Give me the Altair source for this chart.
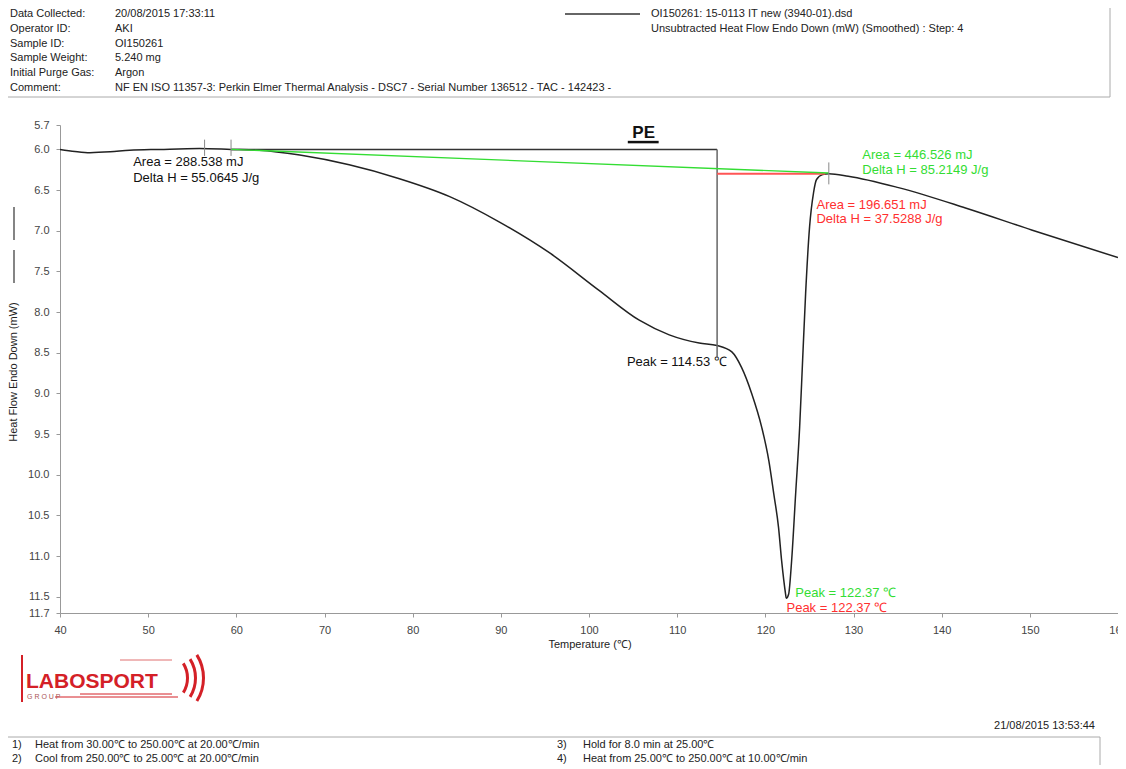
import altair as alt
import pandas as pd

FONT = "Liberation Sans"

# ---------------- data ----------------
temp = [40, 41.7, 43.4, 45.7, 47.9, 51.3, 55.8, 59.4, 62.6, 67.2, 72.8, 78.5,
        84.2, 89.8, 95.5, 101.1, 105.7, 109.1, 112.5, 114.53, 116.2, 117.3,
        118.45, 119.6, 120.4, 120.95, 121.5, 121.85, 122.3, 122.37, 122.64,
        122.98, 123.44, 123.89, 124.23, 124.57, 125.02, 125.47, 125.81, 126.5,
        127.2, 129.4, 135.1, 142.7, 150.2, 160]
heat = [6.0, 6.025, 6.04, 6.03, 6.01, 6.0, 5.99, 6.0, 6.01, 6.07, 6.19, 6.36,
        6.58, 6.89, 7.27, 7.73, 8.10, 8.28, 8.38, 8.41, 8.49, 8.68,
        9.00, 9.42, 9.83, 10.23, 10.65, 11.06, 11.47, 11.52, 11.47,
        11.06, 10.23, 9.42, 8.59, 7.77, 6.95, 6.53, 6.37, 6.31,
        6.30, 6.33, 6.47, 6.72, 6.99, 7.33]

x_ticks = [40, 50, 60, 70, 80, 90, 100, 110, 120, 130, 140, 150, 160]
y_ticks = [5.7, 6.0, 6.5, 7.0, 7.5, 8.0, 8.5, 9.0, 9.5, 10.0, 10.5, 11.0, 11.5, 11.7]

# integration limits / baselines
seg_T = [59.4, 114.53, 114.53, 59.4]
seg_T2 = [114.53, 114.53, 126.8, 127.2]
seg_H = [6.0, 6.0, 6.30, 6.0]
seg_H2 = [6.0, 8.55, 6.30, 6.29]
seg_col = ["#333333", "#666666", "#ff5555", "#33dd33"]
seg_w = [1.5, 1.5, 2.0, 1.4]

mark_T = [56.4, 59.4, 127.2]
mark_H = [5.88, 5.88, 6.16]
mark_H2 = [6.08, 6.08, 6.43]

ann_T = [48.3, 48.3, 131.0, 131.0, 125.8, 125.8, 104.3, 123.4, 122.4]
ann_H = [6.16, 6.35, 6.07, 6.25, 6.68, 6.86, 8.62, 11.46, 11.635]
ann_text = ["Area = 288.538 mJ", "Delta H = 55.0645 J/g",
            "Area = 446.526 mJ", "Delta H = 85.2149 J/g",
            "Area = 196.651 mJ", "Delta H = 37.5288 J/g",
            "Peak = 114.53 ℃", "Peak = 122.37 ℃", "Peak = 122.37 ℃"]
ann_col = ["#111111", "#111111", "#33dd33", "#33dd33", "#ff3030", "#ff3030",
           "#111111", "#33dd33", "#ff3030"]

header_labels = ["Data Collected:", "Operator ID:", "Sample ID:", "Sample Weight:",
                 "Initial Purge Gas:", "Comment:"]
header_values = ["20/08/2015 17:33:11", "AKI", "OI150261", "5.240 mg", "Argon",
                 "NF EN ISO 11357-3: Perkin Elmer Thermal Analysis - DSC7 - Serial Number 136512 - TAC - 142423 -"]
legend_lines = ["OI150261: 15-0113 IT new (3940-01).dsd",
                "Unsubtracted Heat Flow Endo Down (mW) (Smoothed) : Step: 4"]
steps_left = [("1)", "Heat from 30.00℃ to 250.00℃ at 20.00℃/min"),
              ("2)", "Cool from 250.00℃ to 25.00℃ at 20.00℃/min")]
steps_right = [("3)", "Hold for 8.0 min at 25.00℃"),
               ("4)", "Heat from 25.00℃ to 250.00℃ at 10.00℃/min")]
timestamp = "21/08/2015 13:53:44"

# ---------------- scales / axes ----------------
xs = alt.Scale(domain=[40, 160], nice=False, zero=False)
ys = alt.Scale(domain=[5.7, 11.7], reverse=True, nice=False, zero=False)
xaxis = alt.Axis(values=x_ticks, title=None, grid=False, labelFlush=False,
                 labelOverlap=False, tickSize=4, labelPadding=7)
yaxis = alt.Axis(values=y_ticks, format=".1f", title=None, grid=False,
                 labelOverlap=False, tickSize=4, labelPadding=7)


def X(f):
    return alt.X(f, type="quantitative", scale=xs, axis=xaxis)


def Y(f):
    return alt.Y(f, type="quantitative", scale=ys, axis=yaxis)


one = pd.DataFrame({"d": [0]})


def ptext(s, x, y, size=11, color="#222222", align="left", weight="normal",
          font=FONT, angle=None, baseline="middle"):
    kw = dict(text=s, align=align, baseline=baseline, fontSize=size,
              color=color, font=font, fontWeight=weight)
    if angle is not None:
        kw["angle"] = angle
    return alt.Chart(one).mark_text(**kw).encode(x=alt.value(x), y=alt.value(y))


def prule(x1, x2, y1, y2, color="#888888", w=1.0):
    return alt.Chart(one).mark_rule(color=color, strokeWidth=w).encode(
        x=alt.value(x1), x2=alt.value(x2), y=alt.value(y1), y2=alt.value(y2))


def pbox(x1, x2, y1, y2):
    return alt.Chart(one).mark_rect(fillOpacity=0, stroke="#aaaaaa", strokeWidth=1).encode(
        x=alt.value(x1), x2=alt.value(x2), y=alt.value(y1), y2=alt.value(y2))


curve_df = pd.DataFrame({"T": temp, "H": heat})
seg_df = pd.DataFrame({"T": seg_T, "T2": seg_T2, "H": seg_H, "H2": seg_H2})
mark_df = pd.DataFrame({"T": mark_T, "H": mark_H, "H2": mark_H2})
ann_df = pd.DataFrame({"T": ann_T, "H": ann_H, "t": ann_text, "c": ann_col})

layers = []

# the DSC curve
layers.append(
    alt.Chart(curve_df).mark_line(color="#222222", strokeWidth=1.5,
                                  interpolate="monotone").encode(x=X("T"), y=Y("H")))

# baselines and limits
for i in range(len(seg_T)):
    layers.append(
        alt.Chart(seg_df.iloc[[i]]).mark_rule(color=seg_col[i], strokeWidth=seg_w[i]).encode(
            x=X("T"), x2="T2", y=Y("H"), y2="H2"))

layers.append(
    alt.Chart(mark_df).mark_rule(color="#888888", strokeWidth=1).encode(
        x=X("T"), y=Y("H"), y2="H2"))

# annotations in data space
layers.append(
    alt.Chart(ann_df).mark_text(align="left", baseline="middle", fontSize=13, font=FONT).encode(
        x=X("T"), y=Y("H"), text="t:N", color=alt.Color("c:N", scale=None)))

pe_df = pd.DataFrame({"T": [106.2], "H": [5.80], "t": ["PE"]})
layers.append(
    alt.Chart(pe_df).mark_text(align="center", baseline="middle", fontSize=17,
                               fontWeight="bold", font=FONT, color="#111111").encode(
        x=X("T"), y=Y("H"), text="t:N"))
pe_ul = pd.DataFrame({"T": [104.4], "T2": [107.9], "H": [5.91]})
layers.append(
    alt.Chart(pe_ul).mark_rule(color="#111111", strokeWidth=2.5).encode(
        x=X("T"), x2="T2", y=Y("H")))

# ---------------- page furniture (pixel positions relative to plot origin) ----------------
# header box
layers.append(pbox(-55, 1050, -120, -28))
hy = [-111, -96, -81, -67, -52, -37]
for lab, val, yy in zip(header_labels, header_values, hy):
    layers.append(ptext(lab, -50, yy))
    layers.append(ptext(val, 55, yy))
layers.append(prule(505, 580, -111, -111, color="#333333", w=1.5))
layers.append(ptext(legend_lines[0], 591, -111))
layers.append(ptext(legend_lines[1], 591, -96))

# axis titles
layers.append(ptext("Heat Flow Endo Down (mW)", -46, 247, align="center", angle=270))
layers.append(prule(-46, -46, 82, 115, color="#333333", w=1.2))
layers.append(prule(-46, -46, 125, 158, color="#333333", w=1.2))
layers.append(ptext("Temperature (℃)", 530, 520, align="center"))

# logo
LOGO = "#d42027"
layers.append(prule(-38, -38, 530, 577, color=LOGO, w=2))
for r in [45, 37, 29]:
    layers.append(
        alt.Chart(one).mark_arc(radius=r, radius2=r - 3, theta=1.01, theta2=2.13, color=LOGO).encode(
            x=alt.value(100), y=alt.value(553)))
layers.append(prule(-5, 118, 572, 572, color=LOGO, w=1))
layers.append(prule(20, 112, 569, 569, color=LOGO, w=1))
layers.append(prule(60, 112, 535, 535, color="#e07070", w=1))
layers.append(ptext("LABOSPORT", -34, 563, size=21, color=LOGO, weight="bold",
                    baseline="alphabetic"))
layers.append(ptext("G R O U P", -33, 572, size=7, color="#aa5555"))

# timestamp and method steps
layers.append(ptext(timestamp, 1035, 601, align="right"))
layers.append(pbox(-55, 1040, 612, 670))
for (n, s), yy in zip(steps_left, [620, 634]):
    layers.append(ptext(n, -48, yy))
    layers.append(ptext(s, -25, yy))
for (n, s), yy in zip(steps_right, [620, 634]):
    layers.append(ptext(n, 497, yy))
    layers.append(ptext(s, 523, yy))

chart = alt.layer(*layers).properties(
    width=1058, height=488,
    autosize=alt.AutoSizeParams(type="none"),
    padding={"left": 52, "top": 117, "right": 0, "bottom": 152},
).configure_view(stroke=None).configure_axis(
    domainColor="#999999", tickColor="#999999", labelColor="#444444",
    labelFont=FONT, labelFontSize=11,
)

chart.save("out.html", embed_options={"renderer": "svg", "actions": False})
